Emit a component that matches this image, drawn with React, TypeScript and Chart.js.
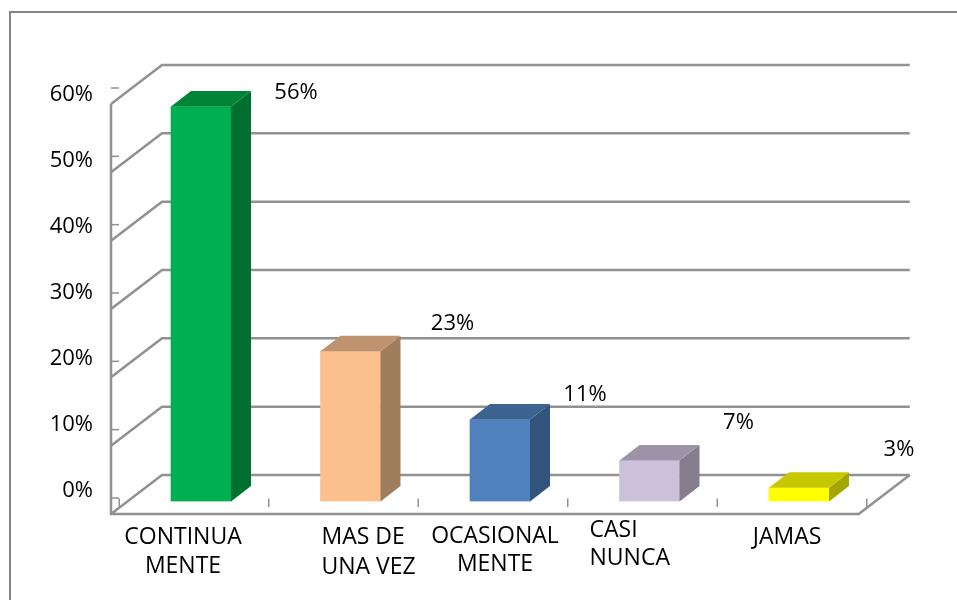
import React, { useEffect, useRef } from "react";
import { Chart, registerables } from "chart.js";

Chart.register(...registerables);

const categories = [
  ["CONTINUA", "MENTE"],
  ["MAS DE", "UNA VEZ"],
  ["OCASIONAL", "MENTE"],
  ["CASI", "NUNCA"],
  ["JAMAS"],
];
const barValues = [57.8, 22, 12, 6, 2];
const valueLabels = ["56%", "23%", "11%", "7%", "3%"];
const axisTicks = [0, 10, 20, 30, 40, 50, 60];
const frontColors = ["#00B050", "#FBC08E", "#4F81BD", "#CCC1DA", "#FFFF00"];
const sideColors = ["#007030", "#A07D5C", "#33547C", "#847D8E", "#A6A600"];
const topColors = ["#008537", "#BF9270", "#3D6391", "#9C94A6", "#C8C800"];

// hand-placed text offsets of the original, relative to scale positions
const labelOffsets = [
  { dx: 95, dy: -14 },
  { dx: 102, dy: -27 },
  { dx: 85, dy: -25 },
  { dx: 89, dy: -38 },
  { dx: 100, dy: -38 },
];
const categoryLayout = [
  { dx: -18, y: 537.5, lh: 29, align: "center" },
  { dx: -29, y: 537.5, lh: 30, align: "left" },
  { dx: -5, y: 536.5, lh: 28, align: "center" },
  { dx: -60, y: 530.5, lh: 28, align: "left" },
  { dx: -12, y: 537.5, lh: 28, align: "center" },
];

const FONT = "'Open Sans'";
const FONT_SIZE = 22;
const CATEGORY_FONT_SIZE = 23;
const LINE = "#919191";
const DX = 51;
const BACK = -26.5;
const FRONT = 12.5;

const threeD = {
  id: "threeD",
  beforeDraw(chart: any) {
    const { ctx, scales } = chart;
    const y = scales.y;
    const x = scales.x;
    const leftFront = x.left - 15.25;
    const rightFront = x.right - 15;
    ctx.save();
    ctx.fillStyle = "#fff";
    ctx.fillRect(0, 0, chart.width, chart.height);
    ctx.strokeStyle = "#858585";
    ctx.lineWidth = 2;
    ctx.beginPath();
    ctx.moveTo(10, 600);
    ctx.lineTo(10, 12);
    ctx.lineTo(957, 12);
    ctx.stroke();

    ctx.strokeStyle = LINE;
    ctx.lineWidth = 2.5;
    for (const v of axisTicks) {
      const p = y.getPixelForValue(v);
      ctx.beginPath();
      ctx.moveTo(leftFront, p + FRONT);
      ctx.lineTo(leftFront + DX, p + BACK);
      ctx.lineTo(rightFront + DX, p + BACK);
      ctx.stroke();
      ctx.lineWidth = 1.5;
      ctx.beginPath();
      ctx.moveTo(leftFront, p - 3.5);
      ctx.lineTo(leftFront + 8, p - 3.5);
      ctx.stroke();
      ctx.lineWidth = 2.5;
    }
    const base = y.getPixelForValue(0);
    const top = y.getPixelForValue(60);
    ctx.beginPath();
    ctx.moveTo(leftFront, top + FRONT);
    ctx.lineTo(leftFront, base + FRONT);
    ctx.lineTo(rightFront, base + FRONT);
    ctx.lineTo(rightFront + DX, base + BACK);
    ctx.stroke();

    ctx.lineWidth = 1.5;
    for (let i = 0; i <= categories.length; i++) {
      const tx = x.left - 7 + (i * (x.right - x.left)) / categories.length;
      ctx.beginPath();
      ctx.moveTo(tx, base - 3);
      ctx.lineTo(tx, base + 5.5);
      ctx.stroke();
    }
    ctx.restore();
  },
  afterDatasetsDraw(chart: any) {
    const { ctx, scales } = chart;
    const bars = chart.getDatasetMeta(0).data;
    const ox = 20;
    const oy = 15.5;
    ctx.save();
    bars.forEach((b: any, i: number) => {
      const x0 = b.x - 30;
      const x1 = b.x + 30;
      const t = b.y;
      const bo = b.base;
      ctx.fillStyle = sideColors[i];
      ctx.beginPath();
      ctx.moveTo(x1, t);
      ctx.lineTo(x1 + ox, t - oy);
      ctx.lineTo(x1 + ox, bo - oy);
      ctx.lineTo(x1, bo);
      ctx.closePath();
      ctx.fill();
      ctx.fillStyle = topColors[i];
      ctx.beginPath();
      ctx.moveTo(x0, t);
      ctx.lineTo(x0 + ox, t - oy);
      ctx.lineTo(x1 + ox, t - oy);
      ctx.lineTo(x1, t);
      ctx.closePath();
      ctx.fill();

      ctx.fillStyle = "#000";
      ctx.font = `${FONT_SIZE}px ${FONT}`;
      ctx.textAlign = "center";
      ctx.textBaseline = "middle";
      ctx.fillText(valueLabels[i], b.x + labelOffsets[i].dx, t + labelOffsets[i].dy);

      const l = categoryLayout[i];
      ctx.font = `${CATEGORY_FONT_SIZE}px ${FONT}`;
      ctx.textAlign = l.align;
      const cx = scales.x.getPixelForValue(i) + l.dx;
      categories[i].forEach((line, k) => {
        ctx.fillText(line, cx, l.y + k * l.lh);
      });
    });
    ctx.restore();
  },
};

export default function App() {
  const ref = useRef<HTMLCanvasElement>(null);
  useEffect(() => {
    const chart = new Chart(ref.current as HTMLCanvasElement, {
      type: "bar",
      data: {
        labels: categories.map((c) => c.join(" ")),
        datasets: [
          {
            data: barValues,
            backgroundColor: frontColors,
            barThickness: 60,
            yAxisID: "y",
          },
        ],
      },
      options: {
        responsive: false,
        animation: false,
        layout: { padding: { left: 0, top: 91.5, right: 83.25, bottom: 98.5 } },
        plugins: { legend: { display: false }, tooltip: { enabled: false } },
        scales: {
          x: { display: false },
          y: { display: false, min: 0, max: 60 },
          yTicks: {
            position: "left",
            min: -1.59,
            max: 60.53,
            border: { display: false },
            grid: { display: false, drawTicks: false },
            afterBuildTicks(axis: any) {
              axis.ticks = axisTicks.map((value) => ({ value }));
            },
            afterFit(axis: any) {
              axis.width = 126.25;
            },
            ticks: {
              autoSkip: false,
              padding: 33.25,
              color: "#000",
              font: { family: "Open Sans", size: FONT_SIZE },
              callback: (v: any) => `${v}%`,
            },
          },
        },
      },
      plugins: [threeD],
    } as any);
    return () => chart.destroy();
  }, []);
  return (
    <div style={{ position: "absolute", left: 0, top: 0, width: 957, height: 600, overflow: "hidden" }}>
      <canvas ref={ref} width={957} height={600} style={{ display: "block" }} />
    </div>
  );
}
